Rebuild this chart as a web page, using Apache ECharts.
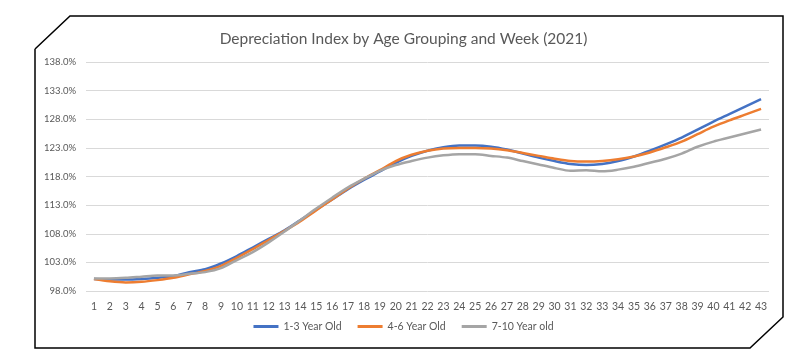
<!DOCTYPE html>
<html>
<head>
<meta charset="utf-8">
<script src="https://cdn.jsdelivr.net/npm/echarts@6/dist/echarts.min.js"></script>
<style>html,body{margin:0;padding:0;background:#fff;}#c{width:807px;height:364px;}</style>
</head>
<body>
<div id="c"></div>
<script>
const weeks = Array.from({length: 43}, (_, i) => String(i + 1));
const seriesNames = ['1-3 Year Old', '4-6 Year Old', '7-10 Year old'];
const young = [100.1,100.0,100.0,100.1,100.3,100.6,101.3,101.8,102.8,104.1,105.6,107.1,108.6,110.4,112.2,114.0,115.8,117.4,118.9,120.4,121.6,122.5,123.1,123.4,123.4,123.2,122.7,122.0,121.3,120.7,120.2,120.0,120.2,120.7,121.5,122.5,123.6,124.8,126.2,127.6,128.9,130.2,131.5];
const middle = [100.1,99.7,99.5,99.6,99.9,100.3,100.9,101.5,102.4,103.8,105.3,106.9,108.5,110.2,112.1,114.0,115.9,117.6,119.1,120.7,121.8,122.5,122.9,123.0,123.0,122.9,122.6,122.1,121.6,121.1,120.7,120.6,120.7,121.0,121.5,122.2,123.1,124.1,125.4,126.7,127.8,128.8,129.8];
const older = [100.2,100.2,100.3,100.5,100.7,100.7,101.0,101.3,102.0,103.4,104.8,106.5,108.4,110.4,112.4,114.3,116.1,117.6,119.0,120.0,120.7,121.3,121.7,121.9,121.9,121.6,121.3,120.7,120.1,119.5,119.0,119.1,118.9,119.2,119.7,120.4,121.1,122.0,123.2,124.1,124.8,125.5,126.2];
const colors = ['#4472C4', '#ED7D31', '#A5A5A5'];
const titleText = 'Depreciation Index by Age Grouping and Week (2021)';

const chart = echarts.init(document.getElementById('c'), null, {renderer: 'canvas'});
const font = 'Lato, "Open Sans", sans-serif';
const mk = (name, data, color) => ({
  name, type: 'line', data, smooth: 0.3, symbol: 'none',
  lineStyle: {width: 2.5, color}, itemStyle: {color}
});
chart.setOption({
  animation: false,
  color: colors,
  title: {
    text: titleText, left: 'center', top: 26,
    textStyle: {fontFamily: font, fontSize: 15.5, fontWeight: 'normal', color: '#595959'}
  },
  legend: {
    data: seriesNames, bottom: 27, left: 'center', icon: 'rect',
    itemWidth: 25, itemHeight: 3, itemGap: 16,
    textStyle: {fontFamily: font, fontSize: 10.5, color: '#595959'}
  },
  grid: {left: 86, right: 38, top: 62, bottom: 73},
  xAxis: {
    type: 'category', data: weeks, boundaryGap: true,
    axisLine: {show: false}, axisTick: {show: false},
    axisLabel: {fontFamily: font, fontSize: 10.5, color: '#595959', margin: 10, interval: 0}
  },
  yAxis: {
    type: 'value', min: 98, max: 138, interval: 5,
    axisLine: {show: false}, axisTick: {show: false},
    splitLine: {lineStyle: {color: '#D9D9D9', width: 1}},
    axisLabel: {fontFamily: font, fontSize: 9.5, color: '#595959', margin: 10,
      formatter: v => v.toFixed(1) + '%'}
  },
  series: [mk(seriesNames[0], young, colors[0]), mk(seriesNames[1], middle, colors[1]), mk(seriesNames[2], older, colors[2])],
  graphic: [{
    type: 'polyline', silent: true, z: 100,
    shape: {points: [[35,49],[70,16],[783,16],[783,317],[750,348],[35,348],[35,49]]},
    style: {stroke: '#000', lineWidth: 1.5, fill: null}
  }]
});
</script>
</body>
</html>
